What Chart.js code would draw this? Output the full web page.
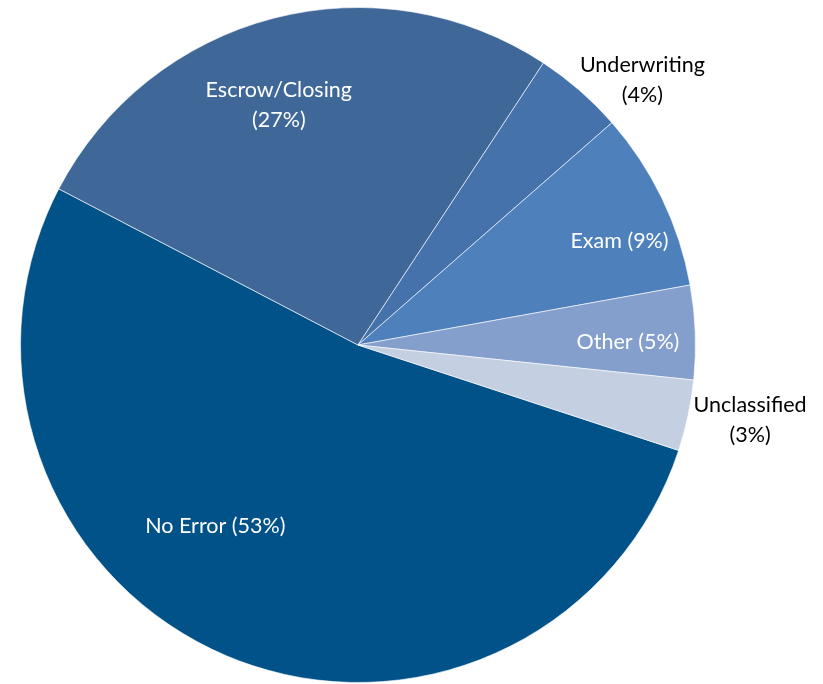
<!DOCTYPE html>
<html>
<head>
<meta charset="utf-8">
<script src="https://cdn.jsdelivr.net/npm/chart.js@4/dist/chart.umd.min.js"></script>
<style>
  html, body { margin: 0; padding: 0; background: #fff; }
  #wrap { width: 823px; height: 684px; }
</style>
</head>
<body>
<div id="wrap"><canvas id="myChart" width="823" height="684"></canvas></div>
<script>
// data (clockwise from the No Error slice)
const categories = ['No Error', 'Escrow/Closing', 'Underwriting', 'Exam', 'Other', 'Unclassified'];
const shares = [52.6, 26.6, 4.3, 8.6, 4.5, 3.4];
const labelText = [
    ['No Error (53%)'],
    ['Escrow/Closing', '(27%)'],
    ['Underwriting', '(4%)'],
    ['Exam (9%)'],
    ['Other (5%)'],
    ['Unclassified', '(3%)']
];

const colors = ['#02528A', '#3F6899', '#4572AA', '#4E80BC', '#849FCC', '#C4CFE2'];
const textColors = ['#fff', '#fff', '#000', '#fff', '#fff', '#000'];
// where each label sits: [radius fraction, degrees off the slice middle]
const labelSpot = [[0.684, 15.3], [0.749, -3.7], [1.151, 6], [0.834, 4], [0.80, 1.5], [1.183, -1.2]];

const sliceLabels = {
    id: 'sliceLabels',
    afterDatasetsDraw(chart) {
        const ctx = chart.ctx;
        const meta = chart.getDatasetMeta(0);
        ctx.save();
        ctx.font = '21.5px Lato';
        ctx.textAlign = 'center';
        ctx.textBaseline = 'middle';
        meta.data.forEach((arc, i) => {
            const p = arc.getProps(['x', 'y', 'startAngle', 'endAngle', 'outerRadius'], true);
            const a = (p.startAngle + p.endAngle) / 2 + labelSpot[i][1] * Math.PI / 180;
            const r = p.outerRadius * labelSpot[i][0];
            const cx = p.x + Math.cos(a) * r;
            const cy = p.y + Math.sin(a) * r;
            const lines = labelText[i];
            ctx.fillStyle = textColors[i];
            lines.forEach((t, k) => {
                ctx.fillText(t, cx, cy + (k - (lines.length - 1) / 2) * 30);
            });
        });
        ctx.restore();
    }
};

var ctx = document.getElementById('myChart');
var myChart = new Chart(ctx, {
    type: 'pie',
    data: {
        labels: categories,
        datasets: [{
            data: shares,
            backgroundColor: colors,
            borderColor: 'rgba(255,255,255,0.6)',
            borderWidth: 1
        }]
    },
    options: {
        responsive: false,
        animation: false,
        events: [],
        rotation: 108.2,
        layout: { padding: { left: 20, right: 127, top: 7, bottom: 1 } },
        plugins: {
            legend: { display: false },
            tooltip: { enabled: false }
        }
    },
    plugins: [sliceLabels]
});
</script>
</body>
</html>
